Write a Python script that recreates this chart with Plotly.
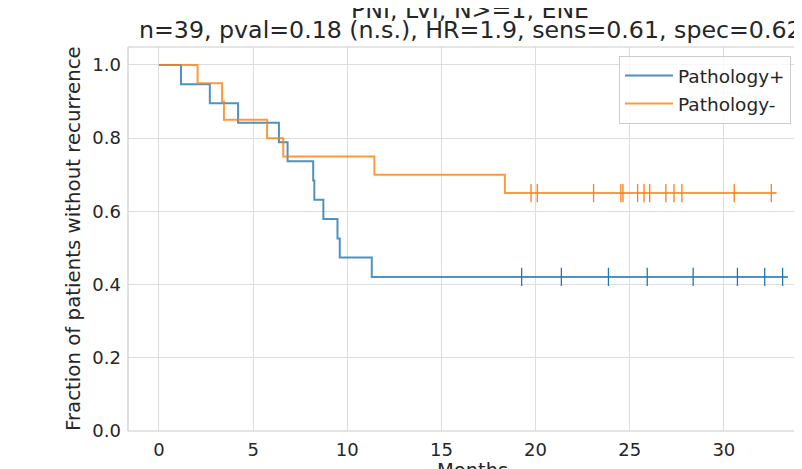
import plotly.graph_objects as go

# ---- data ----
pos_event_months = [1.17, 2.70, 4.20, 6.37, 6.83, 8.19, 8.25, 8.73, 9.48, 9.60, 11.30]
pos_survival = [1.0, 0.947, 0.895, 0.842, 0.789, 0.737, 0.684, 0.632, 0.579, 0.526, 0.474, 0.421]
pos_censor_months = [19.26, 21.37, 23.87, 25.93, 28.37, 30.72, 32.17, 33.12]
pos_end = 33.4

neg_event_months = [2.05, 3.35, 3.45, 5.74, 6.60, 11.44, 18.37]
neg_survival = [1.0, 0.95, 0.90, 0.85, 0.80, 0.75, 0.70, 0.65]
neg_censor_months = [19.76, 20.09, 23.08, 24.53, 24.64, 25.42, 25.76, 26.06, 26.92, 27.35, 27.77, 30.55, 32.52]
neg_end = 32.8

x_ticks = [0, 5, 10, 15, 20, 25, 30]
y_ticks = [0.0, 0.2, 0.4, 0.6, 0.8, 1.0]

title_line1 = "PNI, LVI, N>=1, ENE"
title_line2 = "n=39, pval=0.18 (n.s.), HR=1.9, sens=0.61, spec=0.62"

BLUE_LINE = "rgba(31,119,180,0.8)"
BLUE = "#1f77b4"
ORANGE_LINE = "rgba(255,127,14,0.8)"
ORANGE = "#ff7f0e"
FONT = "DejaVu Sans"
TXT = "#262626"

# page body has an 8px margin, so figure coordinates = screen - 8
OFF = 8
PLOT_TOP = 47 - OFF       # figure px
PLOT_H = 384
PLOT_W = 674

fig = go.Figure()


def add_group(name, events, surv, cens, end, lc, mc, group):
    xs = [0] + events + [end]
    ys = surv + [surv[-1]]
    fig.add_trace(go.Scatter(x=xs, y=ys, mode="lines", line=dict(color=lc, width=2, shape="hv"),
                             name=name, legendgroup=group, hoverinfo="skip"))
    fig.add_trace(go.Scatter(x=cens, y=[surv[-1]] * len(cens), mode="markers",
                             marker=dict(symbol="line-ns", size=13, line=dict(color=mc, width=1.3)),
                             showlegend=False, legendgroup=group, hoverinfo="skip"))


add_group("Pathology+", pos_event_months, pos_survival, pos_censor_months, pos_end, BLUE_LINE, BLUE, "a")
add_group("Pathology-", neg_event_months, neg_survival, neg_censor_months, neg_end, ORANGE_LINE, ORANGE, "b")

axis_common = dict(showgrid=True, gridcolor="#dddddd", gridwidth=1, zeroline=False,
                   showline=False, ticks="", tickfont=dict(family=FONT, size=18, color=TXT),
                   automargin=False)

fig.update_xaxes(range=[-1.646, 34.15], tickvals=x_ticks, ticktext=[str(v) for v in x_ticks],
                 ticklabelstandoff=6, **axis_common)
fig.update_yaxes(range=[0, 1.049], tickvals=y_ticks, ticktext=[f"{v:.1f}" for v in y_ticks],
                 ticklabelstandoff=6, **axis_common)

# spines (light grey)
for x0, x1, y0, y1 in [(0, 0, 0, 1), (0, 1, 0, 0), (0, 1, 1, 1)]:
    fig.add_shape(type="line", xref="paper", yref="paper", x0=x0, x1=x1, y0=y0, y1=y1,
                  line=dict(color="#cccccc", width=1.2))


def py(screen_y):
    return 1.0 + (47 - screen_y) / PLOT_H


def px(screen_x):
    return (screen_x - 128) / PLOT_W


annotations = [
    dict(text=title_line1, x=px(470), y=py(10), xref="paper", yref="paper",
         xanchor="center", yanchor="middle", showarrow=False,
         font=dict(family=FONT, size=23.7, color=TXT)),
    dict(text=title_line2, x=px(470), y=py(30), xref="paper", yref="paper",
         xanchor="center", yanchor="middle", showarrow=False,
         font=dict(family=FONT, size=23.7, color=TXT)),
    dict(text="Months", x=px(472), y=py(470), xref="paper", yref="paper",
         xanchor="center", yanchor="middle", showarrow=False,
         font=dict(family=FONT, size=19.5, color=TXT)),
    dict(text="Fraction of patients without recurrence", x=px(73), y=0.5,
         xref="paper", yref="paper", xanchor="center", yanchor="middle", textangle=-90,
         showarrow=False, font=dict(family=FONT, size=19.8, color=TXT)),
]

fig.update_layout(
    width=802, height=469,
    margin=dict(l=128 - OFF, r=OFF, t=PLOT_TOP, b=469 - PLOT_TOP - PLOT_H),
    paper_bgcolor="white", plot_bgcolor="white",
    annotations=annotations,
    showlegend=True,
    legend=dict(x=px(619), y=py(56), xanchor="left", yanchor="top",
                font=dict(family=FONT, size=18.5, color=TXT),
                bgcolor="rgba(255,255,255,0.8)", bordercolor="#cccccc", borderwidth=1,
                tracegroupgap=1, itemwidth=48, entrywidth=150, entrywidthmode="pixels"),
)

fig.write_html("out.html")
